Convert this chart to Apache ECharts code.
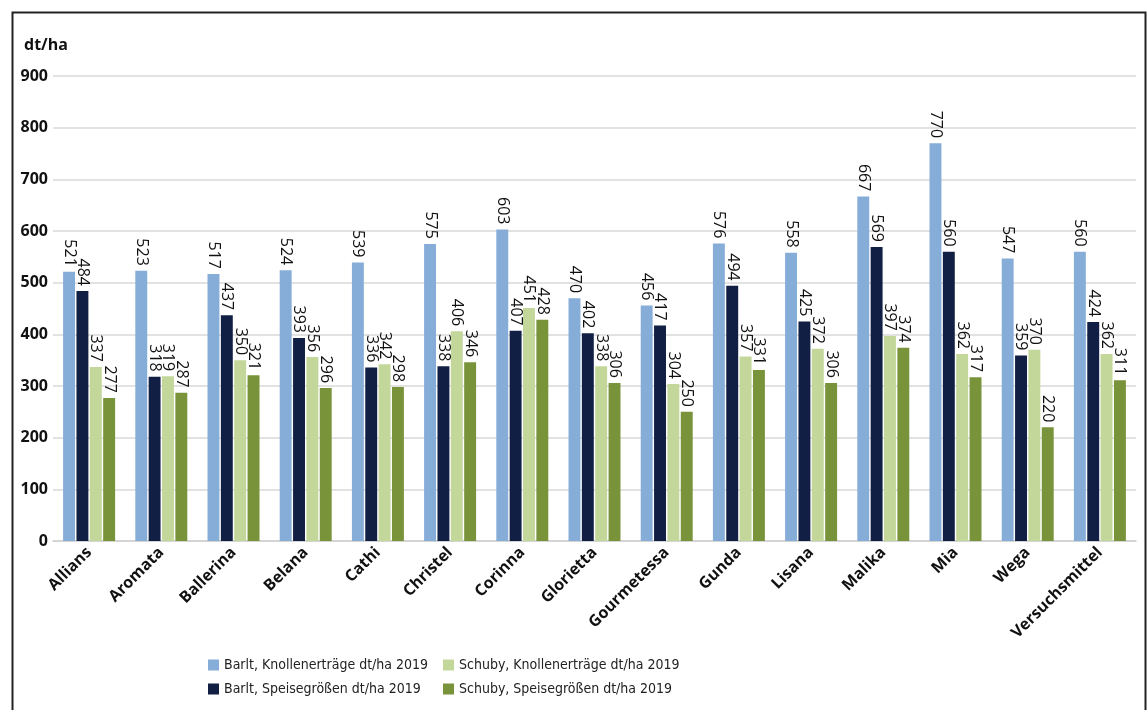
<!DOCTYPE html>
<html><head><meta charset="utf-8">
<script src="https://cdn.jsdelivr.net/npm/echarts@6/dist/echarts.min.js"></script>
<style>html,body{margin:0;padding:0;background:#fff}#c{width:1147px;height:710px}</style>
</head><body><div id="c"></div>
<script>
const categories = ['Allians','Aromata','Ballerina','Belana','Cathi','Christel','Corinna','Glorietta','Gourmetessa','Gunda','Lisana','Malika','Mia','Wega','Versuchsmittel'];
const barltKnollen = [521,523,517,524,539,575,603,470,456,576,558,667,770,547,560];
const barltSpeise = [484,318,437,393,336,338,407,402,417,494,425,569,560,359,424];
const schubyKnollen = [337,319,350,356,342,406,451,338,304,357,372,397,362,370,362];
const schubySpeise = [277,287,321,296,298,346,428,306,250,331,306,374,317,220,311];
const seriesNames = ['Barlt, Knollenerträge dt/ha 2019','Barlt, Speisegrößen dt/ha 2019','Schuby, Knollenerträge dt/ha 2019','Schuby, Speisegrößen dt/ha 2019'];
const colors = ['#86acd8','#101f43','#c3d79b','#78933a'];
const FONT = '"Open Sans", "Noto Sans", sans-serif';
const NARROW = '"DejaVu Sans Condensed", Roboto, sans-serif';

const chart = echarts.init(document.getElementById('c'));
const mk = (name, data, color) => ({
  name, type: 'bar', data, barGap: '12%', barCategoryGap: '28%',
  itemStyle: { color },
  label: { show: true, position: 'top', rotate: -90, align: 'right', verticalAlign: 'middle', distance: 5,
    color: '#111', fontSize: 16, fontFamily: FONT }
});
const legendText = { fontSize: 14, color: '#222', fontFamily: NARROW };
chart.setOption({
  animation: false,
  textStyle: { fontFamily: FONT },
  title: { text: 'dt/ha', left: 19, top: 32, textStyle: { fontSize: 16, fontWeight: 'bold', color: '#111', fontFamily: FONT } },
  grid: { left: 53, right: 11, top: 76, bottom: 169 },
  xAxis: { type: 'category', data: categories,
    axisLine: { lineStyle: { color: '#d0d0d0', width: 1.5 } }, axisTick: { show: false },
    axisLabel: { rotate: 45, margin: 9, interval: 0, fontSize: 16, fontWeight: 'bold', color: '#111', fontFamily: FONT } },
  yAxis: { type: 'value', min: 0, max: 900, interval: 100,
    axisLine: { show: false }, axisTick: { show: false },
    splitLine: { lineStyle: { color: '#d9d9d9', width: 1.5 } },
    axisLabel: { fontSize: 16, fontWeight: 'bold', color: '#111', margin: 5, fontFamily: FONT } },
  legend: [
    { data: [seriesNames[0], seriesNames[1]], orient: 'vertical', left: 203, top: 653, itemGap: 10,
      itemWidth: 11, itemHeight: 11, icon: 'rect', textStyle: legendText },
    { data: [seriesNames[2], seriesNames[3]], orient: 'vertical', left: 438, top: 653, itemGap: 10,
      itemWidth: 11, itemHeight: 11, icon: 'rect', textStyle: legendText }
  ],
  graphic: [{ type: 'rect', left: 10, top: 10, shape: { width: 1133, height: 720 }, style: { fill: 'none', stroke: '#222', lineWidth: 2 } }],
  series: [
    mk(seriesNames[0], barltKnollen, colors[0]),
    mk(seriesNames[1], barltSpeise, colors[1]),
    mk(seriesNames[2], schubyKnollen, colors[2]),
    mk(seriesNames[3], schubySpeise, colors[3])
  ]
});
</script></body></html>
